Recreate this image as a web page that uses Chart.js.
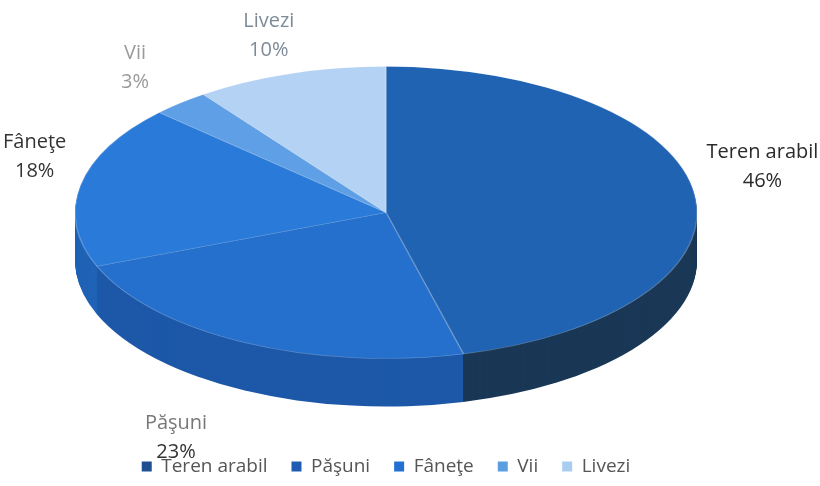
<!DOCTYPE html>
<html>
<head>
<meta charset="utf-8">
<script src="https://cdn.jsdelivr.net/npm/chart.js@4.4.0/dist/chart.umd.min.js"></script>
<style>
  body { margin: 0; background: #fff; }
  #wrap { width: 820px; height: 486px; }
</style>
</head>
<body>
<div id="wrap"><canvas id="pie-chart" width="820" height="486"></canvas></div>
<script>
const categories = ["Teren arabil", "Păşuni", "Fâneţe", "Vii", "Livezi"];
const shares = [46, 23, 18, 3, 10];
const topColors = ["#2063b2", "#2470cc", "#2a7bd9", "#5e9fe6", "#b3d2f4"];
const sideColors = ["#1a3856", "#1d58a8", "#1f62b6", "#3f80c8", "#7fa9d8"];
const legendColors = ["#1f4f90", "#1f5cb2", "#2370d2", "#5a9de0", "#a9cdf1"];
const labelColors = ["#2b2b2b", "#777777", "#333333", "#9a9a9a", "#7d8b99"];
const pctColors = ["#2b2b2b", "#333333", "#333333", "#9a9a9a", "#7d8b99"];

const RX = 311, RY = 146, DEPTH = 48, LIFT = 4;
const FONT = "'Open Sans', Lato, sans-serif";

function ellipseTransform(ctx, arc) {
    const r = arc.outerRadius;
    ctx.translate(arc.x, arc.y - LIFT);
    ctx.scale(RX / r, RY / r);
    ctx.translate(-arc.x, -arc.y);
}

const tiltPlugin = {
    id: "tilt",
    beforeDatasetsDraw(chart) {
        const ctx = chart.ctx;
        const arcs = chart.getDatasetMeta(0).data;
        // side of the disc, stacked layers in dark tones
        for (let d = DEPTH; d > 0; d--) {
            arcs.forEach((arc, i) => {
                ctx.save();
                ctx.translate(0, d);
                ellipseTransform(ctx, arc);
                ctx.beginPath();
                ctx.moveTo(arc.x, arc.y);
                ctx.arc(arc.x, arc.y, arc.outerRadius, arc.startAngle, arc.endAngle);
                ctx.closePath();
                ctx.fillStyle = sideColors[i];
                ctx.fill();
                ctx.restore();
            });
        }
        ctx.save();
        ellipseTransform(ctx, arcs[0]);
    },
    afterDatasetsDraw(chart) {
        const ctx = chart.ctx;
        ctx.restore();
        const arcs = chart.getDatasetMeta(0).data;
        ctx.save();
        ctx.textAlign = "center";
        ctx.textBaseline = "middle";
        ctx.font = "20px " + FONT;
        arcs.forEach((arc, i) => {
            const mid = (arc.startAngle + arc.endAngle) / 2;
            const s = Math.sin(mid), c = Math.cos(mid);
            const half = ctx.measureText(categories[i]).width / 2;
            let lx = arc.x + c * RX * (1.22 + 0.3 * Math.max(s, 0));
            lx = Math.min(Math.max(lx, half + 3), chart.width - half - 1);
            let ly = arc.y - LIFT + s * RY * (1.09 + 0.3 * Math.max(s, 0));
            ly += s > 0 ? DEPTH : -26;
            ctx.fillStyle = labelColors[i];
            ctx.fillText(categories[i], lx, ly - 14);
            ctx.fillStyle = pctColors[i];
            ctx.fillText(shares[i] + "%", lx, ly + 15);
        });
        ctx.restore();
    }
};

let ctxPie = document.getElementById("pie-chart").getContext("2d");
let chart = new Chart(ctxPie, {
    type: "pie",
    data: {
        labels: categories,
        datasets: [{
            data: shares,
            backgroundColor: topColors,
            borderColor: "rgba(255,255,255,0.25)",
            borderWidth: 1
        }]
    },
    options: {
        responsive: false,
        animation: false,
        events: [],
        layout: { padding: { right: 48 } },
        plugins: {
            tooltip: { enabled: false },
            legend: {
                position: "bottom",
                labels: {
                    font: { size: 19, family: FONT },
                    color: "#555",
                    boxWidth: 10,
                    boxHeight: 10,
                    padding: 24,
                    generateLabels(c) {
                        return categories.map((name, i) => ({
                            text: name,
                            fillStyle: legendColors[i],
                            strokeStyle: legendColors[i],
                            lineWidth: 0,
                            fontColor: "#555",
                            index: i
                        }));
                    }
                }
            }
        }
    },
    plugins: [tiltPlugin]
});
</script>
</body>
</html>
